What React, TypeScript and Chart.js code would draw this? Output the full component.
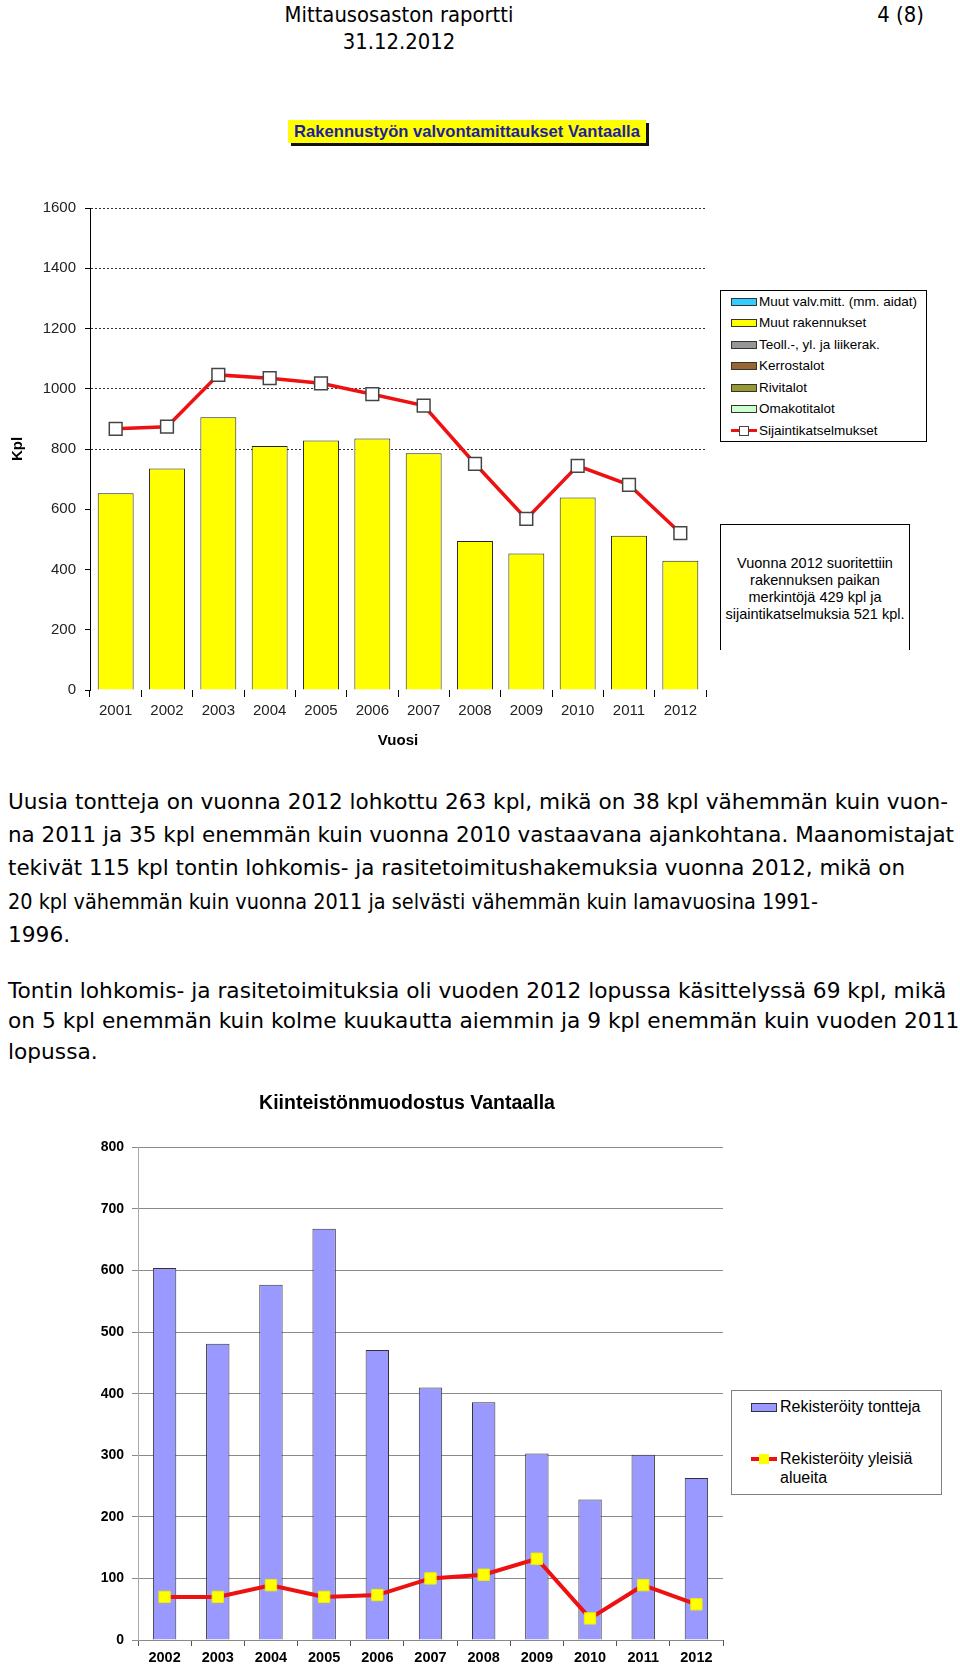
import React, { useEffect, useRef, useMemo } from "react";
import { Chart, registerables } from "chart.js";

Chart.register(...registerables);

// ---------- Chart 1: Rakennustyön valvontamittaukset Vantaalla ----------
const years1 = ["2001", "2002", "2003", "2004", "2005", "2006", "2007", "2008", "2009", "2010", "2011", "2012"];
const muutRakennukset = [653, 735, 905, 810, 828, 835, 786, 495, 453, 639, 512, 429];
const sijaintikatselmukset = [867, 874, 1046, 1035, 1018, 982, 944, 751, 568, 744, 681, 521];
const yMax1 = 1600;
const yStep1 = 200;

const legend1Labels = [
  "Muut valv.mitt. (mm. aidat)",
  "Muut rakennukset",
  "Teoll.-, yl. ja liikerak.",
  "Kerrostalot",
  "Rivitalot",
  "Omakotitalot",
  "Sijaintikatselmukset",
];
const noteLines = ["Vuonna 2012 suoritettiin", "rakennuksen paikan", "merkintöjä 429 kpl ja", "sijaintikatselmuksia 521 kpl."];

// ---------- Chart 2: Kiinteistönmuodostus Vantaalla ----------
const years2 = ["2002", "2003", "2004", "2005", "2006", "2007", "2008", "2009", "2010", "2011", "2012"];
const rekisteroityTontteja = [604, 481, 577, 668, 471, 410, 386, 303, 228, 301, 263];
const rekisteroityYleisiaAlueita = [70, 70, 89, 70, 73, 100, 106, 132, 35, 89, 58];
const yMax2 = 800;
const yStep2 = 100;

// ---------- Page text ----------
const headerTitle = "Mittausosaston raportti";
const headerDate = "31.12.2012";
const headerPage = "4 (8)";
const para1 = [
  "Uusia tontteja on vuonna 2012 lohkottu 263 kpl, mikä on 38 kpl vähemmän kuin vuon-",
  "na 2011 ja 35 kpl enemmän kuin vuonna 2010 vastaavana ajankohtana. Maanomistajat",
  "tekivät 115 kpl tontin lohkomis- ja rasitetoimitushakemuksia vuonna 2012, mikä on",
  "20 kpl vähemmän kuin vuonna 2011 ja selvästi vähemmän kuin lamavuosina 1991-",
  "1996.",
];
const para2 = [
  "Tontin lohkomis- ja rasitetoimituksia oli vuoden 2012 lopussa käsittelyssä 69 kpl, mikä",
  "on 5 kpl enemmän kuin kolme kuukautta aiemmin ja 9 kpl enemmän kuin vuoden 2011",
  "lopussa.",
];

// ---------- styles / layout ----------
const SANS = '"Liberation Sans", Arial, sans-serif';
const BODY_FAMILY = '"DejaVu Sans", Verdana, sans-serif';
const BODY_SIZE = 22;
const HEAD_SIZE = 21;
// right edge (px) that each line of the first paragraph reaches; 0 = natural compression
const para1RightEdge = [948, 954, 905, 818, 0];
const legend1Colors: Record<string, string> = {
  "Muut valv.mitt. (mm. aidat)": "#33ccff",
  "Muut rakennukset": "#ffff00",
  "Teoll.-, yl. ja liikerak.": "#969696",
  "Kerrostalot": "#996633",
  "Rivitalot": "#999933",
  "Omakotitalot": "#ccffcc",
};

function measure(text: string, font: string): number {
  const c = document.createElement("canvas").getContext("2d");
  if (!c) return text.length * 10;
  c.font = font;
  return c.measureText(text).width || text.length * 10;
}

export default function App() {
  const ref1 = useRef<HTMLCanvasElement | null>(null);
  const ref2 = useRef<HTMLCanvasElement | null>(null);

  const bodyFont = `${BODY_SIZE}px "DejaVu Sans"`;
  const bodyScale = useMemo(() => 944 / measure(para1[0], bodyFont), []);
  const headScale = useMemo(() => (938 / measure(para1[0], `${HEAD_SIZE}px "DejaVu Sans"`)) * 0.91, []);
  const para1Scales = useMemo(
    () => para1.map((t, i) => (para1RightEdge[i] ? (para1RightEdge[i] - 8) / measure(t, bodyFont) : bodyScale)),
    [bodyScale]
  );

  useEffect(() => {
    if (!ref1.current || !ref2.current) return;
    const tickFont = { family: SANS, size: 15 };
    const plain = (v: any) => String(v);
    const c1 = new Chart(ref1.current, {
      type: "bar",
      data: {
        labels: years1,
        datasets: [
          {
            type: "line",
            label: "Sijaintikatselmukset",
            data: sijaintikatselmukset,
            borderColor: "#ee1111",
            borderWidth: 3.5,
            pointStyle: "rect",
            pointRadius: 9,
            pointBackgroundColor: "#ffffff",
            pointBorderColor: "#444444",
            pointBorderWidth: 1.5,
            tension: 0,
            order: 0,
          } as any,
          {
            type: "bar",
            label: "Muut rakennukset",
            data: muutRakennukset,
            backgroundColor: "#ffff00",
            borderColor: "#222222",
            borderWidth: 1,
            barPercentage: 0.7,
            categoryPercentage: 1,
            order: 1,
          } as any,
        ],
      },
      options: {
        responsive: false,
        animation: false,
        layout: { padding: { top: 13, right: 14, left: 0, bottom: 0 } },
        plugins: { legend: { display: false }, tooltip: { enabled: false }, title: { display: false } },
        scales: {
          x: {
            grid: { display: true, drawOnChartArea: false, drawTicks: true, tickLength: 7, tickColor: "#000", offset: true },
            border: { display: false },
            ticks: { font: tickFont, color: "#222", padding: 5, maxRotation: 0, autoSkip: false },
            title: { display: true, text: "Vuosi", font: { family: SANS, size: 15, weight: "bold" }, color: "#000", padding: { top: 0, bottom: 0 } },
            afterFit: (s: any) => {
              s.height = 60;
            },
          },
          y: {
            min: 0,
            max: yMax1,
            ticks: { stepSize: yStep1, font: tickFont, color: "#222", padding: 9, callback: plain },
            grid: {
              color: (ctx: any) => (ctx.tick && ctx.tick.value >= 800 ? "#333333" : "rgba(0,0,0,0)"),
              tickColor: "#000",
              tickLength: 5,
              borderDash: [2, 2],
            } as any,
            border: { display: true, color: "#000", width: 1, dash: [2, 2] },
            title: { display: true, text: "Kpl", font: { family: SANS, size: 15, weight: "bold" }, color: "#000", padding: { top: 9, bottom: 0 } },
            afterFit: (s: any) => {
              s.width = 90;
            },
          },
        },
      } as any,
    });

    const boldTick = { family: SANS, size: 14.5, weight: "bold" as const };
    const c2 = new Chart(ref2.current, {
      type: "bar",
      data: {
        labels: years2,
        datasets: [
          {
            type: "line",
            label: "Rekisteröity yleisiä alueita",
            data: rekisteroityYleisiaAlueita,
            borderColor: "#ee1111",
            borderWidth: 4,
            pointStyle: "rect",
            pointRadius: 8,
            pointBackgroundColor: "#ffff00",
            pointBorderColor: "#eeee00",
            pointBorderWidth: 1,
            tension: 0,
            order: 0,
          } as any,
          {
            type: "bar",
            label: "Rekisteröity tontteja",
            data: rekisteroityTontteja,
            backgroundColor: "#9999ff",
            borderColor: "#333333",
            borderWidth: 1,
            barPercentage: 0.44,
            categoryPercentage: 1,
            order: 1,
          } as any,
        ],
      },
      options: {
        responsive: false,
        animation: false,
        layout: { padding: { top: 0, right: 17, left: 91, bottom: 0 } },
        plugins: {
          legend: { display: false },
          tooltip: { enabled: false },
          title: {
            display: true,
            text: "Kiinteistönmuodostus Vantaalla",
            font: { family: SANS, size: 19.5, weight: "bold" },
            color: "#000",
            padding: { top: 17, bottom: 32 },
          },
        },
        scales: {
          x: {
            grid: { display: true, drawOnChartArea: false, drawTicks: true, tickLength: 6, tickColor: "#555", offset: true },
            border: { display: false },
            ticks: { font: boldTick, color: "#000", padding: 3, maxRotation: 0, autoSkip: false },
            afterFit: (s: any) => {
              s.height = 26;
            },
          },
          y: {
            min: 0,
            max: yMax2,
            ticks: { stepSize: yStep2, font: { ...boldTick, size: 14 }, color: "#000", padding: 8, callback: plain },
            grid: { color: "#8a8a8a", tickColor: "#8a8a8a", tickLength: 6 },
            border: { display: true, color: "#aaaaaa", width: 1 },
            afterFit: (s: any) => {
              s.width = 47;
            },
          },
        },
      } as any,
    });

    return () => {
      c1.destroy();
      c2.destroy();
    };
  }, []);

  const lineBase: React.CSSProperties = {
    position: "absolute",
    height: 30,
    lineHeight: "30px",
    whiteSpace: "nowrap",
    fontFamily: BODY_FAMILY,
    fontSize: BODY_SIZE,
    color: "#000",
  };
  const headBase: React.CSSProperties = { ...lineBase, fontSize: HEAD_SIZE };

  const leftLine = (text: string, cy: number, key: string, scale: number) => (
    <div key={key} style={{ ...lineBase, left: 8, top: cy - 15, transform: `scaleX(${scale})`, transformOrigin: "0 50%" }}>
      {text}
    </div>
  );

  return (
    <div style={{ position: "absolute", left: 0, top: 0, width: 960, height: 1666, background: "#fff", overflow: "hidden" }}>
      {/* Header */}
      <div style={{ ...headBase, left: 0, width: 798, textAlign: "center", top: 0, transform: `scaleX(${headScale})`, transformOrigin: "50% 50%" }}>
        {headerTitle}
      </div>
      <div style={{ ...headBase, left: 0, width: 798, textAlign: "center", top: 27, transform: `scaleX(${headScale})`, transformOrigin: "50% 50%" }}>
        {headerDate}
      </div>
      <div style={{ ...headBase, right: 36, top: 0, transform: `scaleX(${headScale})`, transformOrigin: "100% 50%" }}>{headerPage}</div>

      {/* Chart 1 title box */}
      <div
        style={{
          position: "absolute",
          left: 288,
          top: 120,
          width: 358,
          height: 23,
          background: "#ffff00",
          boxShadow: "3px 3px 0 #111",
          fontFamily: SANS,
          fontWeight: "bold",
          fontSize: 16.6,
          color: "#1f1f9a",
          lineHeight: "23px",
          textAlign: "center",
          whiteSpace: "nowrap",
          zIndex: 2,
        }}
      >
        Rakennustyön valvontamittaukset Vantaalla
      </div>

      <canvas ref={ref1} width={720} height={560} style={{ position: "absolute", left: 0, top: 190, width: 720, height: 560 }} />

      {/* Chart 1 legend */}
      <div style={{ position: "absolute", left: 720, top: 290, width: 205, height: 150, border: "1px solid #000", background: "#fff", zIndex: 2 }}>
        {legend1Labels.map((lab, i) => {
          const cy = 10.6 + i * 21.5;
          const col = legend1Colors[lab];
          return (
            <div key={lab}>
              {col ? (
                <div style={{ position: "absolute", left: 10, top: cy - 4, width: 24, height: 6, background: col, border: "1px solid #333" }} />
              ) : (
                <>
                  <div style={{ position: "absolute", left: 10, top: cy - 1.5, width: 26, height: 3, background: "#ee1111" }} />
                  <div style={{ position: "absolute", left: 18, top: cy - 5, width: 8, height: 8, background: "#fff", border: "1px solid #444" }} />
                </>
              )}
              <div style={{ position: "absolute", left: 38, top: cy - 9, height: 18, lineHeight: "18px", fontFamily: SANS, fontSize: 13.5, whiteSpace: "nowrap", color: "#000" }}>
                {lab}
              </div>
            </div>
          );
        })}
      </div>

      {/* Chart 1 note box */}
      <div
        style={{
          position: "absolute",
          left: 720,
          top: 524,
          width: 190,
          height: 126,
          borderTop: "1px solid #000",
          borderLeft: "1px solid #000",
          borderRight: "1px solid #000",
          background: "#fff",
          zIndex: 2,
          paddingTop: 30,
          boxSizing: "border-box",
          fontFamily: SANS,
          fontSize: 14.5,
          lineHeight: "17px",
          textAlign: "center",
          color: "#000",
          whiteSpace: "nowrap",
        }}
      >
        {noteLines.map((l) => (
          <div key={l}>{l}</div>
        ))}
      </div>

      {/* Paragraphs */}
      {para1.map((t, i) => leftLine(t, 802 + i * 33.2, "p1" + i, para1Scales[i]))}
      {para2.map((t, i) => leftLine(t, 991 + i * 30.3, "p2" + i, bodyScale))}

      {/* Chart 2 */}
      <canvas ref={ref2} width={740} height={591} style={{ position: "absolute", left: 0, top: 1075, width: 740, height: 591 }} />

      {/* Chart 2 legend */}
      <div style={{ position: "absolute", left: 731, top: 1390, width: 209, height: 103, border: "1px solid #808080", background: "#fff", zIndex: 2 }}>
        <div style={{ position: "absolute", left: 19, top: 12, width: 24, height: 7, background: "#9999ff", border: "1px solid #333" }} />
        <div style={{ position: "absolute", left: 48, top: 6, height: 20, lineHeight: "20px", fontFamily: SANS, fontSize: 16, whiteSpace: "nowrap" }}>
          Rekisteröity tontteja
        </div>
        <div style={{ position: "absolute", left: 19, top: 66, width: 26, height: 4, background: "#ee1111" }} />
        <div style={{ position: "absolute", left: 27, top: 63, width: 10, height: 10, background: "#ffff00" }} />
        <div style={{ position: "absolute", left: 48, top: 58, lineHeight: "19px", fontFamily: SANS, fontSize: 16, whiteSpace: "nowrap" }}>
          Rekisteröity yleisiä
          <br />
          alueita
        </div>
      </div>
    </div>
  );
}
